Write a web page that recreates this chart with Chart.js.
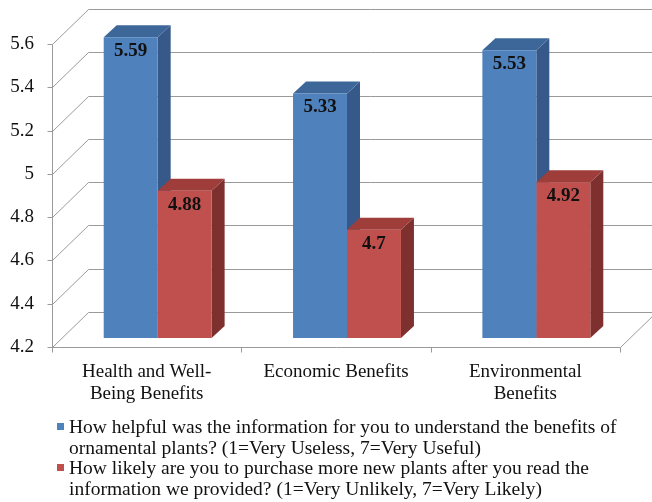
<!DOCTYPE html>
<html>
<head>
<meta charset="utf-8">
<script src="https://cdn.jsdelivr.net/npm/chart.js@4.4.1/dist/chart.umd.min.js"></script>
<style>
  html, body { margin: 0; padding: 0; background: #ffffff; }
  #wrap { width: 652px; height: 502px; }
</style>
</head>
<body>
<div id="wrap"><canvas id="chart" width="652" height="502"></canvas></div>
<script>
// Survey categories (multi-line axis labels)
const categories = [
  ["Health and Well-", "Being Benefits"],
  ["Economic Benefits"],
  ["Environmental", "Benefits"]
];

// Mean scores per category
const helpfulScores = [5.59, 5.33, 5.53];
const purchaseScores = [4.88, 4.7, 4.92];

// Value axis ticks
const yTickValues = [4.2, 4.4, 4.6, 4.8, 5, 5.2, 5.4, 5.6];
const yTickLabels = ["4.2", "4.4", "4.6", "4.8", "5", "5.2", "5.4", "5.6"];

// Series names, split into the lines shown in the legend
const helpfulLegend = [
  "How helpful was the information for you to understand the benefits of",
  "ornamental plants? (1=Very Useless, 7=Very Useful)"
];
const purchaseLegend = [
  "How likely are you to purchase more new plants after you read the",
  "information we provided? (1=Very Unlikely, 7=Very Likely)"
];

const SERIF = "'Liberation Serif', 'Times New Roman', serif";

// 3D geometry of the plot box
const WALL = { dx: 36, dy: -35 };      // depth of the floor / side wall
const BAR_SHIFT = { dx: 11, dy: -9 };  // bars sit a little behind the front edge
const BAR_DEPTH = { dx: 13, dy: -12 }; // thickness of each column

const faceColors = [
  { front: "#4f81bd", top: "#3e6799", side: "#36598a" },
  { front: "#c0504d", top: "#9e3d3a", side: "#7e302e" }
];

const GRID_COLOR = "#9a9a9a";
const TEXT_COLOR = "#111111";

// Draws the back wall, side wall, floor and the column tops/sides
const box3d = {
  id: "box3d",
  beforeDatasetsDraw(chart) {
    const { ctx, chartArea } = chart;
    const y = chart.scales.y;
    const L = chartArea.left, R = chartArea.right;
    const bottom = y.getPixelForValue(yTickValues[0]);
    const px = v => Math.round(v) + 0.5;

    ctx.save();
    ctx.strokeStyle = GRID_COLOR;
    ctx.lineWidth = 1;

    // gridlines: diagonal on the side wall, then across the back wall
    yTickValues.forEach(v => {
      const yy = y.getPixelForValue(v);
      ctx.beginPath();
      ctx.moveTo(px(L), px(yy));
      ctx.lineTo(px(L + WALL.dx), px(yy + WALL.dy));
      ctx.lineTo(px(R + WALL.dx), px(yy + WALL.dy));
      ctx.stroke();
      // tick mark on the front value axis
      ctx.beginPath();
      ctx.moveTo(px(L - 5), px(yy));
      ctx.lineTo(px(L), px(yy));
      ctx.stroke();
    });

    // front value axis
    ctx.beginPath();
    ctx.moveTo(px(L), px(y.getPixelForValue(yTickValues[yTickValues.length - 1])));
    ctx.lineTo(px(L), px(bottom));
    ctx.stroke();

    // floor front edge and right edge
    ctx.beginPath();
    ctx.moveTo(px(L), px(bottom));
    ctx.lineTo(px(R), px(bottom));
    ctx.lineTo(px(R + WALL.dx), px(bottom + WALL.dy));
    ctx.stroke();

    // category separators on the floor edge
    const n = chart.data.labels.length;
    const step = (R - L) / n;
    for (let i = 0; i <= n; i++) {
      const xx = L + step * i;
      ctx.beginPath();
      ctx.moveTo(px(xx), px(bottom));
      ctx.lineTo(px(xx), px(bottom + 5));
      ctx.stroke();
    }

    // column tops and right sides
    ctx.translate(BAR_SHIFT.dx, BAR_SHIFT.dy);
    chart.data.datasets.forEach((ds, di) => {
      const meta = chart.getDatasetMeta(di);
      const c = faceColors[di];
      meta.data.forEach(bar => {
        const l = bar.x - bar.width / 2;
        const r = bar.x + bar.width / 2;
        const t = bar.y;
        const b = Math.min(bar.base, bottom);
        ctx.fillStyle = c.side;
        ctx.beginPath();
        ctx.moveTo(r, t);
        ctx.lineTo(r + BAR_DEPTH.dx, t + BAR_DEPTH.dy);
        ctx.lineTo(r + BAR_DEPTH.dx, b + BAR_DEPTH.dy);
        ctx.lineTo(r, b);
        ctx.closePath();
        ctx.fill();
        ctx.fillStyle = c.top;
        ctx.beginPath();
        ctx.moveTo(l, t);
        ctx.lineTo(r, t);
        ctx.lineTo(r + BAR_DEPTH.dx, t + BAR_DEPTH.dy);
        ctx.lineTo(l + BAR_DEPTH.dx, t + BAR_DEPTH.dy);
        ctx.closePath();
        ctx.fill();
      });
    });
    ctx.restore();

    // shift the column fronts drawn by Chart.js
    ctx.save();
    ctx.translate(BAR_SHIFT.dx, BAR_SHIFT.dy);
  },
  afterDatasetsDraw(chart) {
    const { ctx } = chart;
    // value labels inside the column tops (still in shifted space)
    ctx.font = "bold 19px " + SERIF;
    ctx.fillStyle = TEXT_COLOR;
    ctx.textAlign = "center";
    ctx.textBaseline = "alphabetic";
    chart.data.datasets.forEach((ds, di) => {
      const meta = chart.getDatasetMeta(di);
      meta.data.forEach((bar, i) => {
        ctx.fillText(String(ds.data[i]), bar.x, bar.y + 19);
      });
    });
    ctx.restore();
  },
  afterDraw(chart) {
    const { ctx } = chart;
    const items = [
      { lines: chart.data.datasets[0].legendLines, color: faceColors[0].front, baselines: [433, 454] },
      { lines: chart.data.datasets[1].legendLines, color: faceColors[1].front, baselines: [474, 495] }
    ];
    ctx.save();
    ctx.font = "19.5px " + SERIF;
    ctx.textAlign = "left";
    ctx.textBaseline = "alphabetic";
    items.forEach(it => {
      ctx.fillStyle = it.color;
      ctx.fillRect(57, it.baselines[0] - 10, 7, 7);
      ctx.fillStyle = TEXT_COLOR;
      it.lines.forEach((line, k) => ctx.fillText(line, 69, it.baselines[k]));
    });
    ctx.restore();
  }
};

new Chart(document.getElementById("chart"), {
  type: "bar",
  data: {
    labels: categories,
    datasets: [
      { label: helpfulLegend.join(" "), legendLines: helpfulLegend, data: helpfulScores, backgroundColor: faceColors[0].front },
      { label: purchaseLegend.join(" "), legendLines: purchaseLegend, data: purchaseScores, backgroundColor: faceColors[1].front }
    ]
  },
  options: {
    responsive: false,
    animation: false,
    devicePixelRatio: 1,
    layout: { padding: { top: 44, right: 32, left: 0, bottom: 0 } },
    datasets: { bar: { categoryPercentage: 0.57, barPercentage: 1, borderWidth: 0 } },
    plugins: { legend: { display: false }, tooltip: { enabled: false } },
    scales: {
      x: {
        grid: { display: false, drawTicks: false },
        border: { display: false },
        ticks: {
          padding: 14,
          color: TEXT_COLOR,
          maxRotation: 0,
          autoSkip: false,
          font: { family: SERIF, size: 19, lineHeight: 1.15 }
        },
        afterFit(scale) { scale.height = 155; }
      },
      y: {
        min: 4.2,
        max: 5.6,
        afterBuildTicks(scale) { scale.ticks = yTickValues.map(v => ({ value: v })); },
        grid: { display: false, drawTicks: false },
        border: { display: false },
        ticks: {
          padding: 18,
          color: TEXT_COLOR,
          font: { family: SERIF, size: 19 },
          callback: (value, index) => yTickLabels[index]
        },
        afterFit(scale) { scale.width = 52; }
      }
    }
  },
  plugins: [box3d]
});
</script>
</body>
</html>
